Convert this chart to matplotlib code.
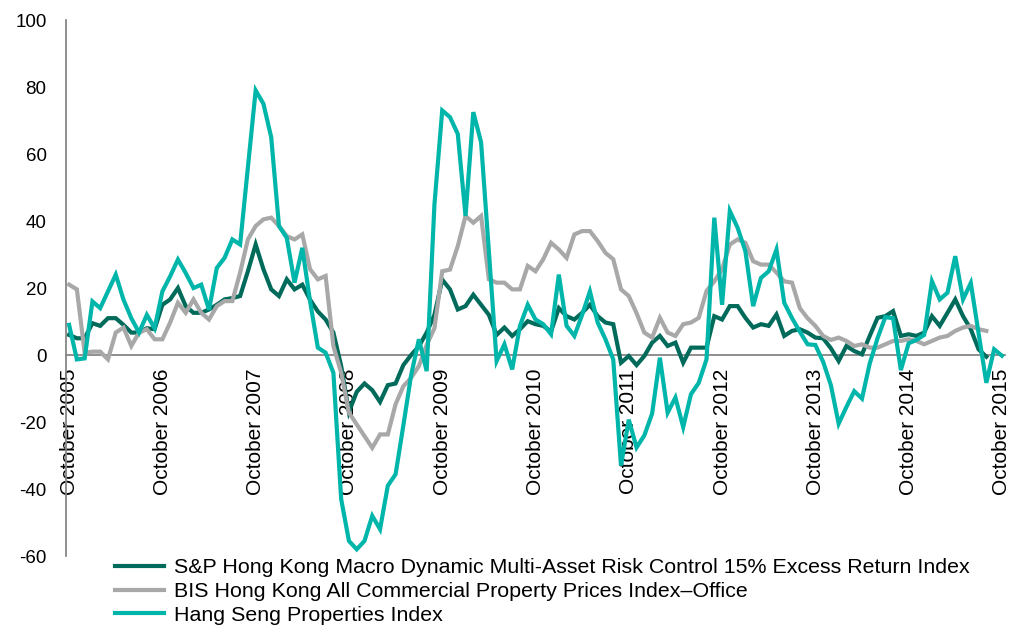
import numpy as np
import matplotlib.pyplot as plt

plt.rcParams['font.family'] = ['Liberation Sans', 'DejaVu Sans']
plt.rcParams['axes.unicode_minus'] = False

# Year-on-year change (%), monthly from October 2005 to October 2015
sp_macro = [
    6, 5, 5, 9.5, 8.7, 11, 11, 9, 6.7, 6.7, 8, 7.7,
    15, 16.6, 20, 14.6, 12.6, 12.6, 13.6, 15, 16.6, 17, 17.6, 25,
    33, 25.6, 19.6, 17.6, 22.6, 19.6, 21, 16.5, 13, 10.6, 6.7, -3.3,
    -17, -11, -8.5, -10.5, -14, -9, -8.5, -3, 0, 2.6, 6.7, 12,
    22.5, 19.6, 13.6, 14.6, 18, 15, 12, 6, 8.2, 5.7, 7.7, 10.1,
    9.2, 8.7, 7, 14, 11.6, 10.6, 12.6, 15, 11.6, 9.7, 9.2, -2.3,
    -0.3, -3, -0.3, 3.7, 5.7, 2.7, 3.7, -2.3, 2.2, 2.2, 2.2, 11.6,
    10.6, 14.6, 14.6, 11.1, 8.2, 9.2, 8.7, 12.1, 5.7, 7.2, 7.7, 6.7,
    5.2, 5, 2, -1.8, 2.7, 1.2, 0.2, 5.7, 11.1, 11.6, 13.1, 5.7,
    6.2, 5.7, 6.7, 11.6, 8.7, 12.6, 16.6, 11.6, 7.7, 1.7, -0.5,
]
bis_office = [
    21, 19.6, 0.7, 1, 1, -1.3, 6.7, 8.2, 2.7, 6.7, 7.7, 4.7,
    4.7, 9.7, 15.6, 12.6, 16.6, 12.6, 10.6, 14.6, 16.1, 16.1, 24.6, 34.5,
    38.5, 40.5, 41, 38.5, 35.5, 34.5, 36, 25.6, 22.6, 23.6, 2.7, -5.3,
    -17.2, -20.7, -24.2, -27.7, -23.7, -23.7, -14.7, -9.3, -6.8, -3.3, 3, 8,
    25, 25.5, 32.5, 41.5, 39.5, 41.5, 22.6, 21.6, 21.6, 19.6, 19.6, 26.6,
    25, 28.6, 33.5, 31.5, 29, 36, 37, 37, 34, 30.5, 28.6, 19.6,
    17.6, 12.5, 6.7, 5.2, 11.1, 6.7, 5.7, 9.2, 9.7, 11.1, 19.1, 22,
    25.6, 33, 34.5, 33.5, 28, 27, 27, 24.6, 22, 21.6, 14, 11,
    8.7, 5.7, 4.5, 5.2, 4.2, 2.7, 3.2, 2.2, 2.2, 3.2, 4.2, 4.2,
    4.7, 4.2, 3.2, 4.2, 5.2, 5.7, 7.2, 8.2, 8.7, 7.7, 7.2,
]
hang_seng = [
    9, -1.3, -1, 16, 14, 19, 24, 16.5, 11, 6.7, 12, 8,
    19, 23.5, 28.5, 24.5, 20, 21, 13.5, 26, 29, 34.5, 33, 56,
    79, 75, 65, 38.5, 35, 21.6, 32, 16, 2.2, 0.7, -5.3, -43,
    -55.5, -58, -55.5, -48, -52, -39, -35.6, -21, -6, 4.7, -4.8, 45,
    73, 71, 66, 41.5, 72.5, 63.5, 31, -1.8, 3.2, -4.3, 8.7, 15,
    10.6, 9.2, 6.2, 24, 8.7, 5.7, 12, 19, 9.7, 4.7, -1.3, -33,
    -19.3, -27.6, -24, -17.5, -0.8, -17.2, -12.7, -21.5, -11.7, -8.3, -1.3, 41,
    15, 43, 38, 31, 14.6, 23, 25, 31.5, 15.6, 11, 7, 3.2,
    3, -2, -9, -20.5, -15.5, -10.8, -13, -2.5, 5, 11.3, 11, -4.5,
    3.5, 4.5, 6, 22, 16.6, 18.6, 29.5, 16.6, 21.5, 6.5, -8.3, 1.7, -0.2,
]

tick_years = list(range(2005, 2016))
tick_labels = ['October %d' % y for y in tick_years]
y_ticks = [-60, -40, -20, 0, 20, 40, 60, 80, 100]

series_names = [
    'S&P Hong Kong Macro Dynamic Multi-Asset Risk Control 15% Excess Return Index',
    'BIS Hong Kong All Commercial Property Prices Index\u2013Office',
    'Hang Seng Properties Index',
]
series_colors = ['#006A5B', '#A8A8A8', '#00B5AA']


def main():
    fig = plt.figure(figsize=(10.2, 6.26), dpi=100)
    ax = fig.add_axes([0.0647, 0.1118, 0.9206, 0.8562])

    handles = []
    for values, name, color in zip([sp_macro, bis_office, hang_seng],
                                   series_names, series_colors):
        x = np.arange(len(values))
        h, = ax.plot(x, values, color=color, linewidth=3.0,
                     solid_joinstyle='miter', label=name)
        handles.append(h)

    ax.set_xlim(-0.4, 120.4)
    ax.set_ylim(-60, 100)
    ax.set_yticks(y_ticks)
    ax.set_xticks([12 * k for k in range(len(tick_years))])
    ax.set_xticklabels(tick_labels)

    # horizontal axis sits on the zero line
    for side in ['top', 'right']:
        ax.spines[side].set_visible(False)
    ax.spines['bottom'].set_position(('data', 0))
    ax.spines['bottom'].set_color('#868686')
    ax.spines['bottom'].set_linewidth(1.3)
    ax.spines['bottom'].set_zorder(1)
    ax.spines['left'].set_color('#868686')
    ax.spines['left'].set_linewidth(1.3)

    ax.tick_params(axis='x', length=0, pad=10, labelsize=15, labelrotation=90)
    ax.tick_params(axis='y', length=0, pad=14, labelsize=13.5)
    for lbl in ax.get_xticklabels():
        lbl.set_verticalalignment('top')
        lbl.set_horizontalalignment('center')

    fig.legend(handles=handles, loc='upper left',
               bbox_to_anchor=(0.1127, 0.108), frameon=False,
               fontsize=15.4, handlelength=2.3, handletextpad=0.45,
               labelspacing=0.22, borderpad=0, borderaxespad=0)

    fig.savefig('out.png', dpi=100)


if __name__ == "__main__":
    main()
